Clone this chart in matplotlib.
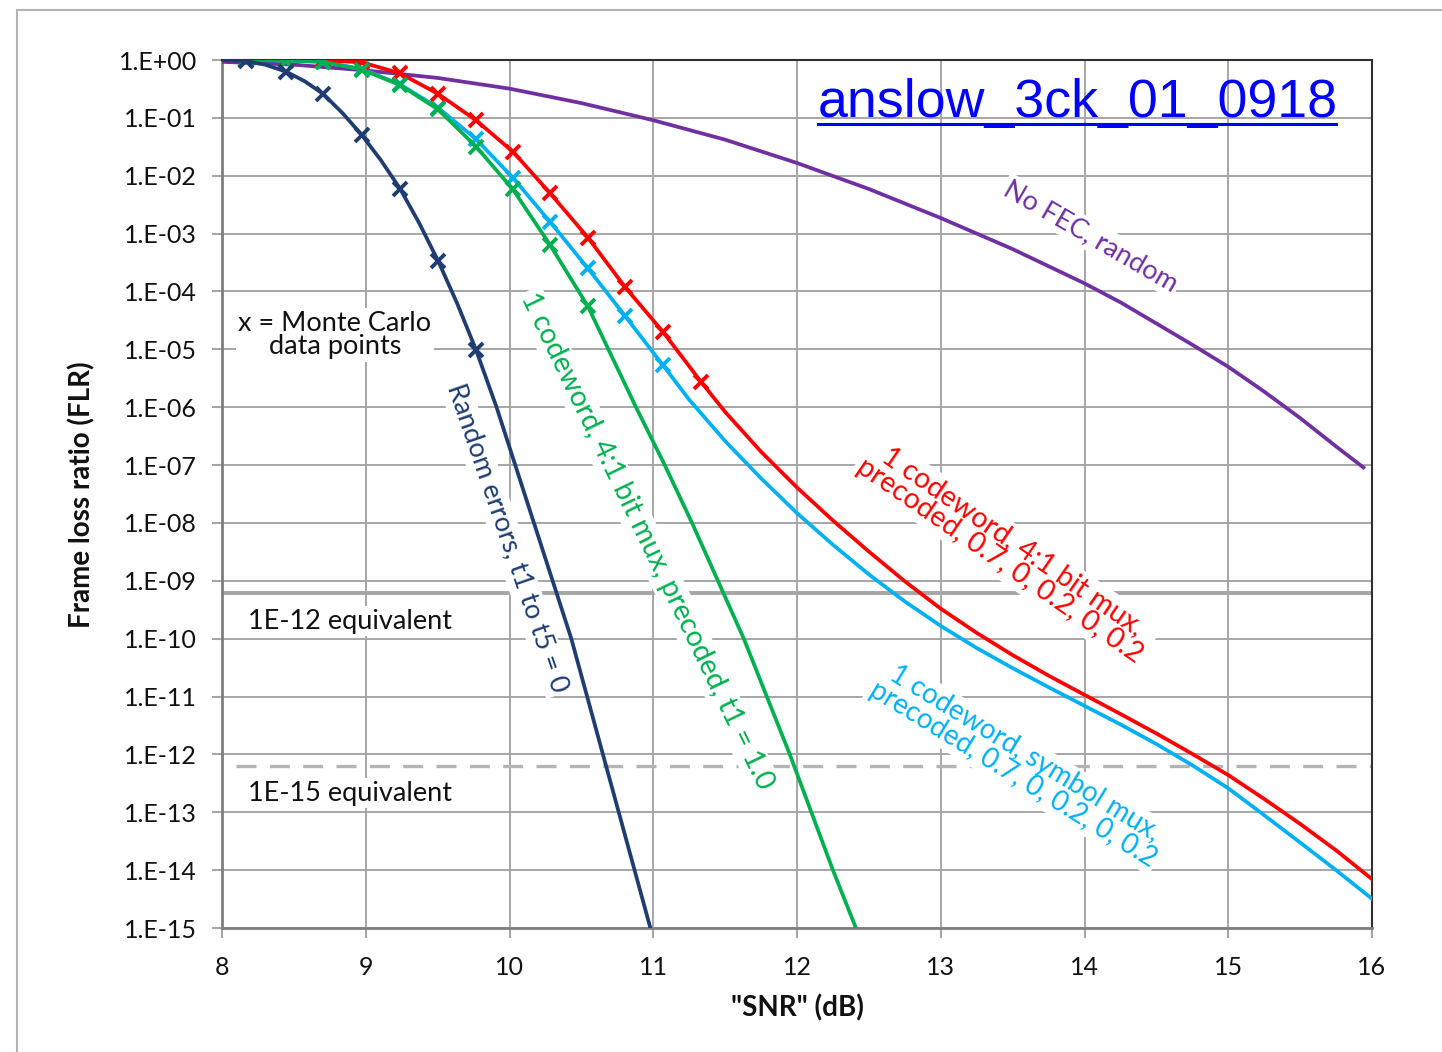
import matplotlib
matplotlib.use("Agg")
import matplotlib.pyplot as plt
from matplotlib.patches import Rectangle
from matplotlib.lines import Line2D
from matplotlib.ticker import FixedLocator, NullLocator

plt.rcParams['font.family'] = ['Lato', 'DejaVu Sans']

# Monte Carlo SNR points (dB)
mc_snr = [8.167, 8.445, 8.703, 8.974, 9.238, 9.503, 9.767, 10.024,
          10.282, 10.546, 10.803, 11.068, 11.332]

# random errors, t1..t5 = 0
navy_mc = [0.96, 0.63, 0.26, 0.050, 0.0060, 3.4e-4, 9.8e-6]
navy_snr = [8.0, 8.167, 8.3, 8.445, 8.575, 8.703, 8.84, 8.974, 9.105, 9.238,
            9.37, 9.503, 9.635, 9.767, 9.91, 10.04, 10.17, 10.30, 10.43,
            10.54, 10.65, 10.76, 10.87, 10.98]
navy_flr = [1.0, 0.96, 0.83, 0.63, 0.43, 0.26, 0.12, 0.050, 0.0186, 0.0060,
            1.55e-3, 3.4e-4, 6.3e-5, 9.8e-6, 1e-6, 1e-7, 1e-8, 1e-9, 1e-10,
            1e-11, 1e-12, 1e-13, 1e-14, 1e-15]

# 1 codeword, 4:1 bit mux, precoded, t1 = 1.0
green_mc = [1.0, 0.98, 0.93, 0.68, 0.37, 0.14, 0.032, 0.0058, 6.4e-4, 5.5e-5]
green_snr = [8.0, 8.167, 8.445, 8.703, 8.974, 9.238, 9.503, 9.767, 10.024, 10.282,
             10.546, 10.68, 10.88, 11.08, 11.27, 11.45, 11.63, 11.79, 11.95,
             12.10, 12.25, 12.41]
green_flr = [1.0, 1.0, 0.98, 0.93, 0.68, 0.37, 0.14, 0.032, 0.0058, 6.4e-4,
             5.5e-5, 1.1e-5, 1e-6, 1e-7, 1e-8, 1e-9, 1e-10, 1e-11, 1e-12,
             1e-13, 1e-14, 1e-15]

# 1 codeword, symbol mux, precoded
cyan_mc = [1.0, 0.98, 0.93, 0.70, 0.38, 0.15, 0.043, 0.0092, 0.0016,
           2.5e-4, 3.8e-5, 5.3e-6]
cyan_snr = [8.0, 8.167, 8.445, 8.703, 8.974, 9.238, 9.503, 9.767, 10.024, 10.282,
            10.546, 10.803, 11.068, 11.25, 11.5, 11.75, 12.0, 12.25, 12.5,
            12.75, 13.0, 13.25, 13.5, 13.75, 14.0, 14.25, 14.5, 14.75, 15.0,
            15.25, 15.5, 15.75, 16.0]
cyan_flr = [1.0, 1.0, 0.98, 0.93, 0.70, 0.38, 0.15, 0.043, 0.0092, 0.0016,
            2.5e-4, 3.8e-5, 5.3e-6, 1.35e-6, 2.6e-7, 5.9e-8, 1.48e-8, 4.2e-9,
            1.29e-9, 4.4e-10, 1.66e-10, 6.9e-11, 3.1e-11, 1.45e-11, 6.9e-12,
            3.3e-12, 1.51e-12, 6.5e-13, 2.6e-13, 8.9e-14, 3.0e-14, 1.0e-14,
            3.2e-15]

# 1 codeword, 4:1 bit mux, precoded
red_mc = [1.0, 1.0, 0.99, 0.91, 0.59, 0.26, 0.091, 0.026, 0.0050, 8.5e-4,
          1.2e-4, 2.0e-5, 2.75e-6]
red_snr = [8.0, 8.167, 8.445, 8.703, 8.974, 9.238, 9.503, 9.767, 10.024, 10.282,
           10.546, 10.803, 11.068, 11.332, 11.5, 11.75, 12.0, 12.25, 12.5,
           12.75, 13.0, 13.25, 13.5, 13.75, 14.0, 14.25, 14.5, 14.75, 15.0,
           15.25, 15.5, 15.75, 16.0]
red_flr = [1.0, 1.0, 1.0, 0.99, 0.91, 0.59, 0.26, 0.091, 0.026, 0.0050,
           8.5e-4, 1.2e-4, 2.0e-5, 2.75e-6, 8.3e-7, 1.7e-7, 4.1e-8, 1.1e-8,
           3.2e-9, 9.8e-10, 3.3e-10, 1.26e-10, 5.2e-11, 2.3e-11, 1.07e-11,
           5.0e-12, 2.3e-12, 1.02e-12, 4.4e-13, 1.7e-13, 6.3e-14, 2.2e-14,
           7.0e-15]

# no FEC, random
purple_snr = [8.0, 8.5, 9.0, 9.5, 10.0, 10.5, 11.0, 11.5, 12.0, 12.5, 13.0,
              13.5, 14.0, 14.25, 14.5, 14.75, 15.0, 15.25, 15.5, 15.75, 15.94]
purple_flr = [0.93, 0.83, 0.66, 0.49, 0.32, 0.18, 0.091, 0.042, 0.0166,
              0.0059, 0.00186, 5.4e-4, 1.38e-4, 6.5e-5, 2.8e-5, 1.2e-5,
              5.0e-6, 1.86e-6, 6.5e-7, 2.1e-7, 9.1e-8]

# equivalence thresholds
thr_1e12 = 6.2e-10
thr_1e15 = 6.2e-13

xticks = [8, 9, 10, 11, 12, 13, 14, 15, 16]
yticks = [1e0, 1e-1, 1e-2, 1e-3, 1e-4, 1e-5, 1e-6, 1e-7, 1e-8, 1e-9, 1e-10,
          1e-11, 1e-12, 1e-13, 1e-14, 1e-15]
ytick_labels = ["1.E+00", "1.E-01", "1.E-02", "1.E-03", "1.E-04", "1.E-05",
                "1.E-06", "1.E-07", "1.E-08", "1.E-09", "1.E-10", "1.E-11",
                "1.E-12", "1.E-13", "1.E-14", "1.E-15"]

NAVY = "#1f3d70"
GREEN = "#00b050"
CYAN = "#00b0f0"
RED = "#ff0000"
PURPLE = "#7030a0"
GRID = "#a6a6a6"

W, H = 1442, 1052
fig = plt.figure(figsize=(W / 100, H / 100), dpi=100)
fig.add_artist(Rectangle((17 / W, -0.1), 1.2, 1 - 10 / H + 0.1,
                         transform=fig.transFigure, fill=False,
                         ec="#b4b4b4", lw=1.5))

ax = fig.add_axes([222 / W, 1 - 928 / H, 1150 / W, 868 / H])
ax.set_yscale("log")
ax.set_xlim(8, 16)
ax.set_ylim(1e-15, 1)
ax.xaxis.set_major_locator(FixedLocator(xticks))
ax.yaxis.set_major_locator(FixedLocator(yticks))
ax.yaxis.set_minor_locator(NullLocator())
ax.set_yticklabels(ytick_labels)
ax.set_xticklabels([str(v) for v in xticks])
ax.tick_params(axis="both", labelsize=18, colors=GRID, labelcolor="#111111",
               length=7, width=1.5)
ax.tick_params(axis="y", pad=11)
ax.tick_params(axis="x", pad=13)
ax.grid(True, color=GRID, lw=1.4)
ax.set_axisbelow(True)
for s in ["left", "bottom"]:
    ax.spines[s].set_color("#7f7f7f")
    ax.spines[s].set_linewidth(2)
for s in ["top", "right"]:
    ax.spines[s].set_color("#303030")
    ax.spines[s].set_linewidth(1.5)

ax.axhline(thr_1e12, color="#a6a6a6", lw=2.8, zorder=1)
ax.axhline(thr_1e15, xmin=0.012, color="#b4b4b4", lw=2.4,
           linestyle=(0, (6, 4)), zorder=1)

lw = 2.7
mk = dict(marker="x", ms=9.5, mew=2.8, linestyle="none")
ax.plot(purple_snr, purple_flr, color=PURPLE, lw=lw, zorder=3)
ax.plot(cyan_snr, cyan_flr, color=CYAN, lw=lw, zorder=3.1)
ax.plot(mc_snr[:len(cyan_mc)], cyan_mc, color=CYAN, zorder=3.1, **mk)
ax.plot(red_snr, red_flr, color=RED, lw=lw, zorder=3.2)
ax.plot(mc_snr[:len(red_mc)], red_mc, color=RED, zorder=3.2, **mk)
ax.plot(green_snr, green_flr, color=GREEN, lw=lw, zorder=3.3)
ax.plot(mc_snr[:len(green_mc)], green_mc, color=GREEN, zorder=3.3, **mk)
ax.plot(navy_snr, navy_flr, color=NAVY, lw=lw, zorder=3.4)
ax.plot(mc_snr[:len(navy_mc)], navy_mc, color=NAVY, zorder=3.4, **mk)

box = dict(fc="white", ec="none", pad=2)


def px_text(x, y, s, **kw):
    # place text by pixel position in the figure
    return fig.text(x / W, 1 - y / H, s, ha="center", va="center",
                    bbox=box, zorder=2.5, rotation_mode="anchor", **kw)


px_text(335, 335, "x = Monte Carlo\ndata points", fontsize=19.5,
        linespacing=0.9, color="#111111")
px_text(350, 621, "1E-12 equivalent", fontsize=19.5, color="#111111")
px_text(350, 793, "1E-15 equivalent", fontsize=19.5, color="#111111")
px_text(1091, 236, "No FEC, random", fontsize=19.5, color=PURPLE, rotation=-30)
px_text(507, 538, "Random errors, t1 to t5 = 0", fontsize=19.5, color=NAVY,
        rotation=-71)
px_text(647, 541, "1 codeword, 4:1 bit mux, precoded, t1 = 1.0", fontsize=20.5,
        color=GREEN, rotation=-64.2)
px_text(1006, 551, "1 codeword, 4:1 bit mux,\nprecoded, 0.7, 0, 0.2, 0, 0.2",
        fontsize=20.5, color=RED, rotation=-34.5, linespacing=0.9)
px_text(1019, 764, "1 codeword, symbol mux,\nprecoded, 0.7, 0, 0.2, 0, 0.2",
        fontsize=20, color=CYAN, rotation=-31.5, linespacing=0.9)

fig.text(797 / W, 1 - 1008 / H, '"SNR" (dB)', fontsize=20, fontweight="bold",
         ha="center", va="center", color="#111111")
fig.text(82 / W, 1 - 495 / H, "Frame loss ratio (FLR)", fontsize=20,
         fontweight="bold", ha="center", va="center", rotation=90,
         color="#111111")

fig.text(818 / W, 1 - 117 / H, "anslow_3ck_01_0918", fontsize=38.7,
         family="Liberation Sans", color="#0000ff", ha="left", va="baseline")
fig.add_artist(Line2D([818 / W, 1336 / W], [1 - 124 / H, 1 - 124 / H],
                      transform=fig.transFigure, color="#0000ff", lw=2.2))

fig.savefig("out.png", dpi=100)
